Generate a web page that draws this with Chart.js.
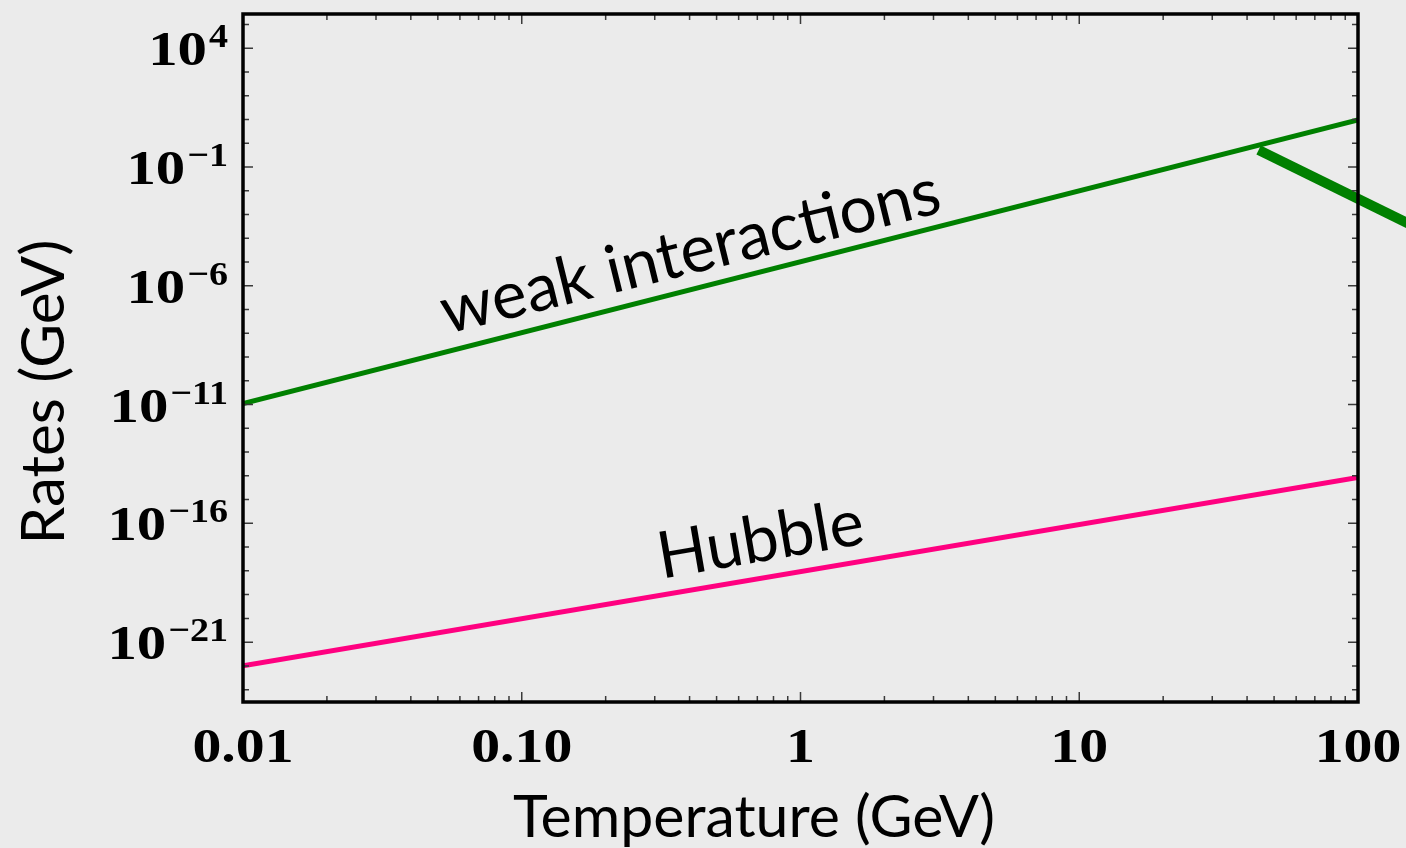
<!DOCTYPE html>
<html>
<head>
<meta charset="utf-8">
<script src="https://cdn.jsdelivr.net/npm/chart.js@4.4.1/dist/chart.umd.min.js"></script>
<style>
  html, body { margin: 0; padding: 0; background: #ebebeb; }
  #wrap { width: 1406px; height: 848px; }
</style>
</head>
<body>
<div id="wrap"><canvas id="ratesChart" width="1406" height="848"></canvas></div>
<script>
// End points of each straight log-log segment (temperature in GeV, rate in GeV)
const weakTemps = [0.01, 100];
const weakRates = [1.1e-11, 9.5];
const hubbleTemps = [0.01, 100];
const hubbleRates = [1e-22, 8.5e-15];
const arrowTemps = [44, 1000];
const arrowRates = [0.52, 7.8e-9];

// Axis ticks
const xTickValues = [0.01, 0.1, 1, 10, 100];
const xTickLabels = ['0.01', '0.10', '1', '10', '100'];
const yTickExponents = [4, -1, -6, -11, -16, -21];

const GREEN = '#008000';
const PINK = '#ff0080';
const TICK_FONT = '"Liberation Serif", "DejaVu Serif", serif';
const SANS = 'Lato, "Open Sans", sans-serif';

function toPoints(xs, ys) {
    return xs.map((x, i) => ({ x: x, y: ys[i] }));
}

// font size that makes a string span the given width
function fitFont(ctx, text, weight, family, width) {
    ctx.font = weight + ' 100px ' + family;
    const size = 100 * width / ctx.measureText(text).width;
    return weight + ' ' + size.toFixed(1) + 'px ' + family;
}

function drawStretched(ctx, text, x, y, font, align, sx) {
    ctx.save();
    ctx.translate(x, y);
    ctx.scale(sx, 1);
    ctx.font = font;
    ctx.textAlign = align;
    ctx.textBaseline = 'alphabetic';
    ctx.fillText(text, 0, 0);
    ctx.restore();
}

function drawRotated(ctx, text, x, y, angleDeg, font) {
    ctx.save();
    ctx.translate(x, y);
    ctx.rotate(angleDeg * Math.PI / 180);
    ctx.font = font;
    ctx.textAlign = 'center';
    ctx.textBaseline = 'alphabetic';
    ctx.fillText(text, 0, 0);
    ctx.restore();
}

const framePlugin = {
    id: 'frame',
    afterDatasetsDraw(chart) {
        const ctx = chart.ctx;
        const area = chart.chartArea;
        const xs = chart.scales.x;
        const ys = chart.scales.y;

        // inward ticks on all four sides
        ctx.save();
        ctx.strokeStyle = '#3a3a3a';
        ctx.lineWidth = 1.5;
        ctx.beginPath();
        for (let d = -2; d <= 2; d++) {
            for (let m = 1; m <= 9; m++) {
                const v = m * Math.pow(10, d);
                if (v > 100 || v <= 0.01) continue;
                const px = xs.getPixelForValue(v);
                const len = m === 1 ? 10 : 6;
                ctx.moveTo(px, area.bottom);
                ctx.lineTo(px, area.bottom - len);
                ctx.moveTo(px, area.top);
                ctx.lineTo(px, area.top + len);
            }
        }
        for (let e = -23; e <= 5; e++) {
            const py = ys.getPixelForValue(Math.pow(10, e));
            const len = yTickExponents.includes(e) ? 10 : 6;
            ctx.moveTo(area.left, py);
            ctx.lineTo(area.left + len, py);
            ctx.moveTo(area.right, py);
            ctx.lineTo(area.right - len, py);
        }
        ctx.stroke();

        // axes box
        ctx.strokeStyle = '#000';
        ctx.lineWidth = 3.5;
        ctx.strokeRect(area.left, area.top, area.right - area.left, area.bottom - area.top);

        ctx.fillStyle = '#000';

        // x tick labels
        const tickFont = 'bold 49px ' + TICK_FONT;
        xTickValues.forEach((v, i) => {
            drawStretched(ctx, xTickLabels[i], xs.getPixelForValue(v), 762, tickFont, 'center', 1.18);
        });

        // y tick labels as powers of ten
        const supFont = 'bold 34px ' + TICK_FONT;
        const labelRight = 228;
        yTickExponents.forEach(e => {
            const py = ys.getPixelForValue(Math.pow(10, e));
            const sup = e < 0 ? '\u2212' + Math.abs(e) : String(e);
            ctx.font = supFont;
            const supW = ctx.measureText(sup).width * 1.12;
            drawStretched(ctx, sup, labelRight, py - 1, supFont, 'right', 1.12);
            drawStretched(ctx, '10', labelRight - supW - 2, py + 17, tickFont, 'right', 1.2);
        });

        // axis titles
        const xTitleFont = fitFont(ctx, 'Temperature (GeV)', 'normal', SANS, 482);
        drawRotated(ctx, 'Temperature (GeV)', 754, 837, 0, xTitleFont);
        const yTitleFont = fitFont(ctx, 'Rates (GeV)', 'normal', SANS, 305);
        drawRotated(ctx, 'Rates (GeV)', 64, 392, -90, yTitleFont);

        // curve labels
        const weakFont = fitFont(ctx, 'weak interactions', 'normal', SANS, 512);
        drawRotated(ctx, 'weak interactions', xs.getPixelForValue(0.42), ys.getPixelForValue(3.5e-6), -13.8, weakFont);
        const hubbleFont = fitFont(ctx, 'Hubble', 'normal', SANS, 208);
        drawRotated(ctx, 'Hubble', xs.getPixelForValue(0.74), ys.getPixelForValue(2.6e-18), -9.8, hubbleFont);

        ctx.restore();
    }
};

new Chart(document.getElementById('ratesChart').getContext('2d'), {
    type: 'line',
    data: {
        datasets: [{
            label: 'weak interactions',
            data: toPoints(weakTemps, weakRates),
            borderColor: GREEN,
            borderWidth: 5,
            pointRadius: 0
        }, {
            label: 'Hubble',
            data: toPoints(hubbleTemps, hubbleRates),
            borderColor: PINK,
            borderWidth: 5,
            pointRadius: 0
        }, {
            label: 'arrow',
            data: toPoints(arrowTemps, arrowRates),
            borderColor: GREEN,
            borderWidth: 10,
            pointRadius: 0,
            clip: false
        }]
    },
    options: {
        responsive: false,
        animation: false,
        devicePixelRatio: 1,
        layout: {
            padding: { left: 243, top: 14, right: 48, bottom: 146 }
        },
        plugins: {
            legend: { display: false },
            tooltip: { enabled: false }
        },
        scales: {
            x: {
                type: 'logarithmic',
                min: 0.01,
                max: 100,
                display: false
            },
            y: {
                type: 'logarithmic',
                min: Math.pow(10, -23.52),
                max: Math.pow(10, 5.44),
                display: false
            }
        }
    },
    plugins: [framePlugin]
});
</script>
</body>
</html>
